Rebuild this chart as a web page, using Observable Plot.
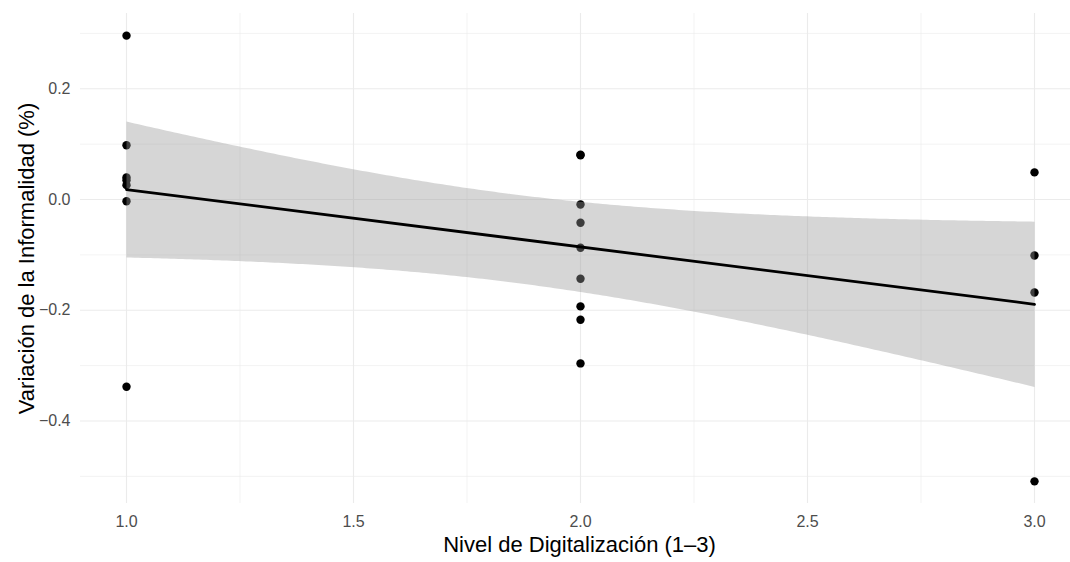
<!DOCTYPE html>
<html><head><meta charset="utf-8">
<script src="https://cdn.jsdelivr.net/npm/d3@7"></script>
<script src="https://cdn.jsdelivr.net/npm/@observablehq/plot@0.6"></script>
<style>body{margin:0;background:#fff} svg{display:block}</style>
</head><body><div id="chart"></div>
<script>
const nivel = [1, 1, 1, 1, 1, 1, 1, 2, 2, 2, 2, 2, 2, 2, 2, 2, 3, 3, 3, 3];
const variacion = [0.296, 0.098, 0.040, 0.035, 0.026, -0.003, -0.338,
                   0.081, 0.080, -0.009, -0.042, -0.087, -0.143, -0.193, -0.217, -0.296,
                   0.049, -0.101, -0.168, -0.509];
const xTicks = [1, 1.5, 2, 2.5, 3];
const xMinor = [1.25, 1.75, 2.25, 2.75];
const yTicks = [-0.4, -0.2, 0, 0.2];
const yMinor = [-0.5, -0.3, -0.1, 0.1, 0.3];
const xTitle = "Nivel de Digitalización (1–3)";
const yTitle = "Variación de la Informalidad (%)";

const data = nivel.map((x, i) => ({nivel: x, variacion: variacion[i]}));

const chart = Plot.plot({
  width: 1070, height: 562,
  marginLeft: 80, marginRight: 0, marginTop: 13, marginBottom: 59,
  style: {fontFamily: "'Liberation Sans', Arial, sans-serif", background: "#fff"},
  x: {domain: [0.9, 3.1], range: [80.6, 1079.4]},
  y: {domain: [-0.549, 0.336], range: [503, 13]},
  marks: [
    Plot.ruleX(xMinor, {stroke: "#ebebeb", strokeWidth: 0.6}),
    Plot.ruleY(yMinor, {stroke: "#ebebeb", strokeWidth: 0.6}),
    Plot.ruleX(xTicks, {stroke: "#ebebeb", strokeWidth: 1.1}),
    Plot.ruleY(yTicks, {stroke: "#ebebeb", strokeWidth: 1.1}),
    Plot.axisX(xTicks, {tickSize: 0, tickPadding: 12, tickFormat: d3.format(".1f"), fontSize: 16, color: "#4d4d4d", label: null}),
    Plot.axisY(yTicks, {tickSize: 0, tickPadding: 10, tickFormat: d3.format(".1f"), fontSize: 16, color: "#4d4d4d", label: null}),
    Plot.dot(data, {x: "nivel", y: "variacion", r: 4.2, fill: "black", stroke: "none"}),
    Plot.linearRegressionY(data, {x: "nivel", y: "variacion", stroke: "black", strokeWidth: 2.8, fill: "#999999", fillOpacity: 0.4, ci: 0.95}),
    Plot.text([xTitle], {frameAnchor: "bottom", dx: 4, dy: 48, fontSize: 22, fill: "black", textAnchor: "middle"}),
    Plot.text([yTitle], {frameAnchor: "left", dx: -54, rotate: -90, fontSize: 22, fill: "black", textAnchor: "middle"})
  ]
});
document.getElementById("chart").appendChild(chart);
</script>
</body></html>
